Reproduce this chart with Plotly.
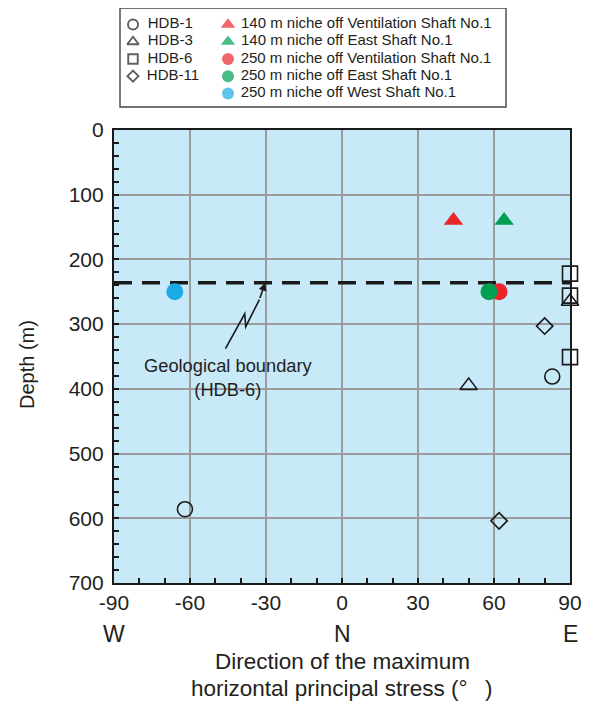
import plotly.graph_objects as go

# ---------------- data ----------------
series_names = ["HDB-1", "HDB-3", "HDB-6", "HDB-11",
                "140 m niche off Ventilation Shaft No.1",
                "140 m niche off East Shaft No.1",
                "250 m niche off Ventilation Shaft No.1",
                "250 m niche off East Shaft No.1",
                "250 m niche off West Shaft No.1"]
hdb1_dir = [-62, 83]
hdb1_depth = [586, 381]
hdb3_dir = [50, 90]
hdb3_depth = [395, 265]
hdb6_dir = [90, 90, 90]
hdb6_depth = [222, 256, 351]
hdb11_dir = [80, 62]
hdb11_depth = [303, 604]
vent140_dir = [44]
vent140_depth = [140]
east140_dir = [64]
east140_depth = [140]
vent250_dir = [62]
vent250_depth = [250]
east250_dir = [58]
east250_depth = [250]
west250_dir = [-66]
west250_depth = [250]
boundary_depth = 236

x_tickvals = [-90, -60, -30, 0, 30, 60, 90]
x_ticktext = ["-90", "-60", "-30", "0", "30", "60", "90"]
compass_vals = [-90, 0, 90]
compass_text = ["W", "N", "E"]
y_tickvals = [0, 100, 200, 300, 400, 500, 600, 700]
x_title_lines = ["Direction of the maximum", "horizontal principal stress (°\u2002 )"]

# ---------------- styles ----------------
FONT = "Liberation Sans, Arial, Helvetica, sans-serif"
TXT = "#231f20"
RED = "#e8262b"
GREEN = "#00a053"
BLUE = "#1aabe6"
BG = "#c7e9f8"
GRID = "#9b9b9b"

OFF = 8   # page body margin of the written html
W, H = 593, 702
# target page positions (px) -> figure positions
PLOT_L, PLOT_R, PLOT_T, PLOT_B = 114 - OFF, 570 - OFF, 130 - OFF, 583 - OFF
ML, MR, MT, MB = PLOT_L, W - PLOT_R, 0, H - PLOT_B
paper_h = H - MT - MB
paper_w = W - ML - MR
main_top = (paper_h - PLOT_T) / paper_h

fig = go.Figure()

# boundary dashed line
fig.add_trace(go.Scatter(x=[x_tickvals[0], x_tickvals[-1]], y=[boundary_depth, boundary_depth],
                         mode="lines", line=dict(color="#1a1a1a", width=3.5, dash="18px,10px"),
                         showlegend=False, hoverinfo="skip", cliponaxis=False))

specs = [
    (hdb1_dir, hdb1_depth, "circle-open", "#1a1a1a", 15),
    (hdb3_dir, hdb3_depth, "triangle-up-open", "#1a1a1a", 15),
    (hdb6_dir, hdb6_depth, "square-open", "#1a1a1a", 15),
    (hdb11_dir, hdb11_depth, "diamond-open", "#1a1a1a", 12.5),
    (vent140_dir, vent140_depth, "triangle-up", RED, 17),
    (east140_dir, east140_depth, "triangle-up", GREEN, 17),
    (vent250_dir, vent250_depth, "circle", RED, 17),
    (east250_dir, east250_depth, "circle", GREEN, 17),
    (west250_dir, west250_depth, "circle", BLUE, 17),
]
for name, (xs, ys, sym, col, sz) in zip(series_names, specs):
    fig.add_trace(go.Scatter(
        x=xs, y=ys, mode="markers", name=name, showlegend=False, cliponaxis=False,
        marker=dict(symbol=sym, color=col, size=sz,
                    line=dict(width=1.6 if "open" in sym else 0, color=col))))

# ---------------- legend (drawn on an overlay axis) ----------------
LEG_X0, LEG_X1, LEG_Y0, LEG_Y1 = 120 - OFF, 506 - OFF, 5 - OFF, 107 - OFF  # legend box
ROW0, ROW_PITCH = 17, 17.75                          # first row offset / row pitch in px
COL_X = [13, 108]                                    # symbol x in px inside the box
COL_PAD = ["\u2002", " "]                            # gap between symbol and text
box_w = LEG_X1 - LEG_X0
box_h = LEG_Y1 - LEG_Y0
y_top = -ROW0 / ROW_PITCH
y_bot = (box_h - ROW0) / ROW_PITCH
leg_xdom = [(LEG_X0 - ML) / paper_w, (LEG_X1 - ML) / paper_w]
leg_ydom = [(paper_h - LEG_Y1) / paper_h, min(1, (paper_h - LEG_Y0) / paper_h)]

left_names = series_names[:4]
right_names = series_names[4:]
leg_cols = [
    (left_names, ["circle-open", "triangle-up-open", "square-open", "diamond-open"],
     ["#1a1a1a"] * 4, [10, 10, 9.5, 8.5]),
    (right_names, ["triangle-up", "triangle-up", "circle", "circle", "circle"],
     [RED, GREEN, RED, GREEN, BLUE], [12.5, 12.5, 12, 12, 12]),
]
for ci, (names, syms, cols, sizes) in enumerate(leg_cols):
    fig.add_trace(go.Scatter(
        x=[COL_X[ci]] * len(names), y=list(range(len(names))),
        mode="markers+text", text=[COL_PAD[ci] + n for n in names], textposition="middle right",
        textfont=dict(family=FONT, size=15, color=TXT),
        marker=dict(symbol=syms, color=cols, size=sizes,
                    line=dict(width=1.9 if ci == 0 else 0, color=cols)),
        xaxis="x2", yaxis="y2", showlegend=False, hoverinfo="skip", cliponaxis=False))

# ---------------- annotations ----------------
def py_to_paper(py):
    return (paper_h - (py - OFF)) / paper_h

ann = []
for v, t in zip(compass_vals, compass_text):
    ann.append(dict(x=v, y=py_to_paper(634), xref="x", yref="paper", text=t, showarrow=False,
                    yanchor="middle", font=dict(family=FONT, size=23, color=TXT)))
for line, py in zip(x_title_lines, [661, 688]):
    ann.append(dict(x=0, y=py_to_paper(py), xref="x", yref="paper", text=line,
                    showarrow=False, yanchor="middle",
                    font=dict(family=FONT, size=22.5, color=TXT)))
ann.append(dict(x=(27 - OFF - ML) / paper_w, y=py_to_paper(365), xref="paper", yref="paper",
                text="Depth (m)", textangle=-90, showarrow=False, xanchor="center",
                yanchor="middle", font=dict(family=FONT, size=20, color=TXT)))
ann.append(dict(x=-45, y=382, xref="x", yref="y", text="Geological boundary<br>(HDB-6)",
                showarrow=False, font=dict(family=FONT, size=18.3, color=TXT)))
ann.append(dict(x=-30.3, y=boundary_depth, ax=-32.6, ay=262, xref="x", yref="y",
                axref="x", ayref="y", text="", showarrow=True, arrowhead=2,
                arrowsize=1, arrowwidth=1.6, arrowcolor="#1a1a1a", standoff=0))

shapes = [
    dict(type="path", xref="x", yref="y",
         path="M -46,338 L -38.4,284 L -38,304 L -32.6,262",
         line=dict(color="#1a1a1a", width=1.6)),
    dict(type="rect", xref="x2 domain", yref="y2 domain", x0=0, x1=1, y0=0, y1=1,
         fillcolor="white", line=dict(width=0), layer="below"),
    dict(type="rect", xref="paper", yref="paper", x0=leg_xdom[0], x1=leg_xdom[1],
         y0=leg_ydom[0], y1=leg_ydom[1], fillcolor="rgba(0,0,0,0)",
         line=dict(width=1.4, color="#444444"), layer="above"),
]

fig.update_layout(
    width=W, height=H,
    margin=dict(l=ML, r=MR, t=MT, b=MB, autoexpand=False),
    paper_bgcolor="white", plot_bgcolor=BG,
    font=dict(family=FONT, color=TXT),
    annotations=ann, shapes=shapes, showlegend=False,
    xaxis=dict(range=[-90, 90], tickvals=x_tickvals, ticktext=x_ticktext,
               tickfont=dict(family=FONT, size=21, color=TXT), automargin=False,
               showgrid=True, gridcolor=GRID, gridwidth=1.5, zeroline=False,
               ticks="inside", ticklen=5, tickwidth=1.5, tickcolor="#1a1a1a",
               minor=dict(dtick=10, ticks="inside", ticklen=5, tickwidth=1.5,
                          tickcolor="#1a1a1a", showgrid=False),
               showline=True, linecolor="#1a1a1a", linewidth=2.2, mirror=True,
               domain=[0, 1], anchor="y"),
    yaxis=dict(range=[700, 0], tickvals=y_tickvals,
               tickfont=dict(family=FONT, size=21, color=TXT), automargin=False,
               showgrid=True, gridcolor=GRID, gridwidth=1.5, zeroline=False,
               ticks="inside", ticklen=5, tickwidth=1.5, tickcolor="#1a1a1a",
               minor=dict(dtick=20, ticks="inside", ticklen=5, tickwidth=1.5,
                          tickcolor="#1a1a1a", showgrid=False),
               showline=True, linecolor="#1a1a1a", linewidth=2.2, mirror=True,
               ticklabelstandoff=4,
               domain=[0, main_top], anchor="x"),
    xaxis2=dict(domain=leg_xdom,
                range=[0, box_w], anchor="y2", showgrid=False, zeroline=False,
                showticklabels=False, ticks="", showline=False, automargin=False,
                fixedrange=True),
    yaxis2=dict(domain=leg_ydom,
                range=[y_bot, y_top], anchor="x2", showgrid=False, zeroline=False,
                showticklabels=False, ticks="", showline=False, automargin=False,
                fixedrange=True),
)

fig.write_html("out.html")
